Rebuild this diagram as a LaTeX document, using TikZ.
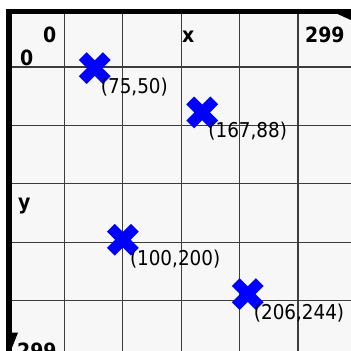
\documentclass[tikz,border=0pt]{standalone}
\usepackage{fontspec}
\newfontfamily\gridfont{DejaVu Sans Condensed}
\usetikzlibrary{shapes.misc}
\definecolor{canvasgray}{RGB}{247,247,247}
\definecolor{gridgray}{RGB}{60,60,60}

\begin{document}
\begin{tikzpicture}[x=1.168pt, y=-1.168pt,
    axislabel/.style={anchor=base west, inner sep=0pt, font=\gridfont\bfseries\fontsize{21}{24}\selectfont},
    ptlabel/.style={anchor=base west, inner sep=0pt, font=\gridfont\fontsize{20.4}{24}\selectfont},
    ptmark/.style={cross out, draw=blue, line width=11pt, inner sep=0pt, minimum size=13pt}]
        \useasboundingbox (-5.14,-7.28) rectangle (295.37,293.24);
        % Draw the canvas
        \fill[canvasgray] (0,0) rectangle (295.37,293.24);

        % Draw the grid
        \foreach \g in {50,100,...,250} {
            \draw[gridgray, line width=1.2pt] (\g,0) -- (\g,293.24);
            \draw[gridgray, line width=1.2pt] (0,\g) -- (295.37,\g);
        }

        % Draw the axes
        \fill[black] (0,0) rectangle (295.37,4.8);
        \fill[black] (0,0) rectangle (5,293.24);
        \fill[black] (283.4,4.5) -- (295.37,4.5) -- (295.37,9.9) -- cycle;
        \fill[black] (0,277.5) -- (10.3,277.5) -- (4,293.24) -- (0,293.24) -- cycle;

        % Axis labels
        \node[axislabel] (o1) at (31.7,29.5) {0};
        \node[axislabel] (o2) at (12,48.4) {0};
        \node[axislabel] (xl) at (150.7,29.5) {x};
        \node[axislabel] (xm) at (256,28.7) {299};
        \node[axislabel] (yl) at (10.3,171.7) {y};
        \node[axislabel] (ym) at (9.4,300) {299};

        % Draw the points
        \node[ptmark] (p1) at (76,51) {};
        \node[ptmark] (p2) at (168,89) {};
        \node[ptmark] (p3) at (100,198) {};
        \node[ptmark] (p4) at (207,244.5) {};
        \node[ptlabel] (l1) at ([xshift=6pt, yshift=-25pt]p1.center) {(75,50)};
        \node[ptlabel] (l2) at ([xshift=6pt, yshift=-25pt]p2.center) {(167,88)};
        \node[ptlabel] (l3) at ([xshift=7pt, yshift=-26pt]p3.center) {(100,200)};
        \node[ptlabel] (l4) at ([xshift=6pt, yshift=-25pt]p4.center) {(206,244)};
    \end{tikzpicture}
\end{document}
